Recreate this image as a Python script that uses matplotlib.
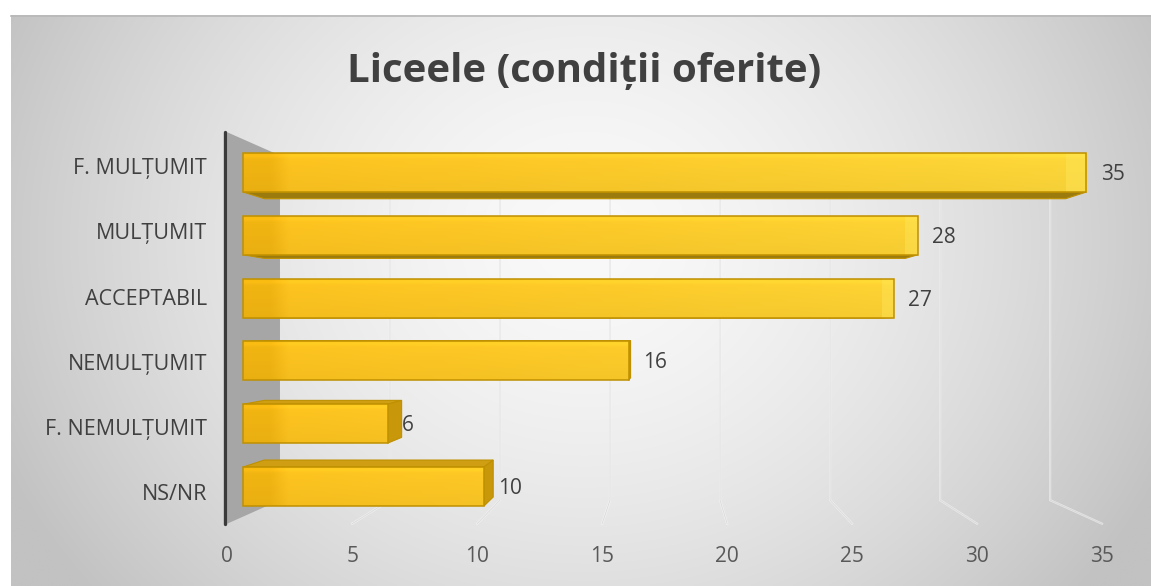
import numpy as np
import matplotlib
matplotlib.use("Agg")
import matplotlib.pyplot as plt
from matplotlib.patches import Polygon
from matplotlib.colors import to_rgb
import matplotlib.transforms as mtransforms

# ---- data -------------------------------------------------------------
categories = ["F. MULȚUMIT", "MULȚUMIT", "ACCEPTABIL", "NEMULȚUMIT",
              "F. NEMULȚUMIT", "NS/NR"]
values = [35, 28, 27, 16, 6, 10]
ticks = [0, 5, 10, 15, 20, 25, 30, 35]
title = "Liceele (condiții oferite)"

# ---- figure / coordinate system ---------------------------------------
W, H, DPI = 1151, 586, 100
fig = plt.figure(figsize=(W / DPI, H / DPI), dpi=DPI)
fig.patch.set_facecolor("white")

# value axis: px per unit and zero position; category rows spacing
PX_X, X0 = 24.1, 243.0
PX_Y, Y0 = 62.8, 172.5

ax = fig.add_axes([0, 0, 1, 1])
ax.set_xlim(-X0 / PX_X, (W - X0) / PX_X)
ax.set_ylim((H - Y0) / PX_Y, -Y0 / PX_Y)
ax.axis("off")


def px2x(px):
    return (px - X0) / PX_X


def px2y(py):
    return (py - Y0) / PX_Y


# simple perspective: depth scale s about a vanishing point
VP_X, VP_Y = px2x(668.0), px2y(327.0)
S_FLOOR, S_WALL, S_BAR = 1.037, 0.913, 0.95
TOP, BOT = -0.53, 5.48          # extent of the plot box in row units
HALF = 0.31                     # half bar thickness in row units


def proj(v, i, s):
    return VP_X + s * (v - VP_X), VP_Y + s * (i - VP_Y)


# ---- background panel with radial gradient -----------------------------
px0, py0 = 11, 15
gx = np.linspace(px0, W, 400)
gy = np.linspace(py0, H, 220)
GX, GY = np.meshgrid(gx, gy)
r = np.sqrt(((GX - 585) / 640.0) ** 2 + ((GY - 240) / 560.0) ** 2)
r = np.clip(r, 0, 1) ** 1.6
c_in, c_out = np.array(to_rgb("#f9f9f9")), np.array(to_rgb("#c2c2c2"))
bg = c_in[None, None, :] * (1 - r[..., None]) + c_out[None, None, :] * r[..., None]
ax.imshow(bg, extent=(px2x(px0), px2x(W), px2y(H), px2y(py0)),
          origin="upper", aspect="auto", zorder=0, interpolation="bilinear")
ax.plot([px2x(px0), px2x(W)], [px2y(py0 + 0.5), px2y(py0 + 0.5)],
        color="#b8b8b8", lw=1.2, zorder=0.5)

# ---- grid lines on back wall and floor --------------------------------
for t in ticks[1:]:
    p1 = proj(t, TOP, S_WALL)
    p2 = proj(t, BOT, S_WALL)
    p3 = proj(t, BOT, S_FLOOR)
    xs, ys = [p1[0], p2[0], p3[0]], [p1[1], p2[1], p3[1]]
    ax.plot(xs, ys, color="white", lw=1.6, alpha=0.55, zorder=1,
            solid_joinstyle="miter")
    ax.plot(xs, ys, color="#d6d6d6", lw=0.7, alpha=0.8, zorder=1.1,
            solid_joinstyle="miter")

# ---- side wall ----------------------------------------------------------
wall = [proj(0, TOP, S_FLOOR), proj(0, TOP, S_WALL),
        proj(0, BOT, S_WALL), proj(0, BOT, S_FLOOR)]
ax.add_patch(Polygon(wall, closed=True, facecolor="#a6a6a6",
                     edgecolor="none", zorder=2))
a, b = proj(0, TOP, S_FLOOR), proj(0, BOT, S_FLOOR)
ax.plot([a[0] - 0.08, b[0] - 0.08], [a[1], b[1]], color="#3a3a3a", lw=2.4,
        solid_capstyle="round", zorder=2.2)

# ---- bars ---------------------------------------------------------------
c_dark = np.array(to_rgb("#f3b612"))
c_mid = np.array(to_rgb("#ffc41e"))
c_light = np.array(to_rgb("#ffd93a"))
EDGE = "#bf9000"

for i, v in enumerate(values):
    y_top, y_bot = i - HALF, i + HALF

    # hidden face visible from the viewpoint: underside or top side
    if y_bot < VP_Y:
        face = [proj(0, y_bot, 1), proj(v, y_bot, 1),
                proj(v, y_bot, S_BAR), proj(0, y_bot, S_BAR)]
        ax.add_patch(Polygon(face, closed=True, facecolor="#9c7b0e",
                             edgecolor=EDGE, lw=0.8, zorder=3))
    if y_top > VP_Y:
        face = [proj(0, y_top, 1), proj(v, y_top, 1),
                proj(v, y_top, S_BAR), proj(0, y_top, S_BAR)]
        ax.add_patch(Polygon(face, closed=True, facecolor="#cf9e12",
                             edgecolor=EDGE, lw=0.8, zorder=3))
    # right end face
    if v < VP_X:
        face = [proj(v, y_top, 1), proj(v, y_top, S_BAR),
                proj(v, y_bot, S_BAR), proj(v, y_bot, 1)]
        ax.add_patch(Polygon(face, closed=True, facecolor="#c9970a",
                             edgecolor=EDGE, lw=0.8, zorder=3))

    # front face with a horizontal light gradient
    u = np.linspace(0, v, 300)
    t = np.clip(u / 35.0, 0, 1)[:, None]
    col = c_mid * (1 - t) + c_light * t
    w_dark = np.clip((1.9 - u) / 0.8, 0, 1)[:, None]
    col = col * (1 - w_dark) + c_dark * w_dark
    rows = np.linspace(0, 1, 40)[:, None, None]
    shade = 1.0 - 0.04 * rows + 0.04 * np.exp(-((rows - 0.06) / 0.05) ** 2)
    img = np.clip(col[None, :, :] * shade, 0, 1)
    ax.imshow(img, extent=(0, v, y_bot, y_top), origin="upper",
              aspect="auto", zorder=4, interpolation="bilinear")
    # back edge seen through the translucent bar
    if v > VP_X:
        xb = proj(v, y_top, S_BAR)[0]
        ax.add_patch(Polygon([(xb, y_top), (v, y_top), (v, y_bot), (xb, y_bot)],
                             closed=True, facecolor="#ffe65a", alpha=0.45,
                             edgecolor="none", zorder=4.1))
    ax.add_patch(Polygon([(0, y_top), (v, y_top), (v, y_bot), (0, y_bot)],
                         closed=True, facecolor="none", edgecolor=EDGE,
                         lw=1.1, zorder=4.2))

# ---- texts --------------------------------------------------------------
FONT = ["Open Sans", "DejaVu Sans"]
base = mtransforms.offset_copy(ax.transData, fig=fig, x=0, y=-7.5, units="dots")

for i, v in enumerate(values):
    ax.text(v + 0.6, i, str(v), transform=base, ha="left", va="baseline",
            fontsize=15, color="#404040", family=FONT, zorder=6)

for i, name in enumerate(categories):
    yy = proj(0, i, S_FLOOR)[1]
    ax.text(px2x(207), yy, name, transform=base, ha="right", va="baseline",
            fontsize=15.5, color="#404040", family=FONT, zorder=6)

for t in ticks:
    xx = proj(t, 0, S_FLOOR)[0]
    ax.text(xx, px2y(562.5), str(t), ha="center", va="baseline",
            fontsize=15, color="#595959", family=FONT, zorder=6)

fig.text(584 / W, 1 - 82 / H, title, ha="center", va="baseline",
         fontsize=29, fontweight="bold", color="#404040", family=FONT)

fig.savefig("out.png", dpi=DPI, facecolor=fig.get_facecolor())
